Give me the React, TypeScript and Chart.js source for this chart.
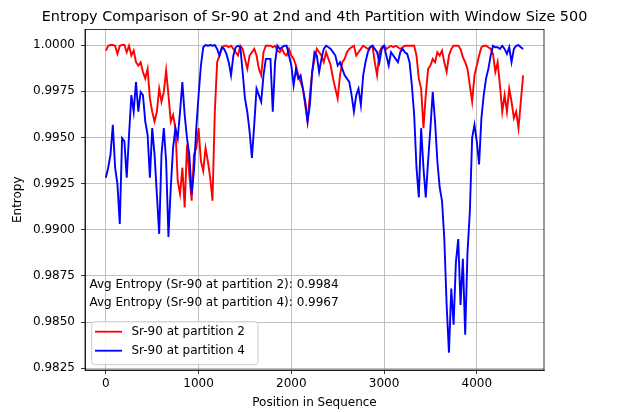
import React, { useEffect, useRef } from "react";
import { Chart, registerables } from "chart.js";

Chart.register(...registerables);

// Window start positions are every STEP units along the sequence
const STEP = 25;

const partition2 = [
  0.99970, 0.99996, 1.00000, 1.00000, 0.99996, 0.99952, 0.99996, 1.00000, 1.00000, 0.99961,
  0.99996, 0.99943, 0.99970, 0.99907, 0.99889, 0.99907, 0.99854, 0.99818, 0.99871, 0.99711,
  0.99639, 0.99586, 0.99639, 0.99764, 0.99693, 0.99746, 0.99862, 0.99729, 0.99586, 0.99621,
  0.99550, 0.99264, 0.99193, 0.99336, 0.99121, 0.99461, 0.99300, 0.99157, 0.99407, 0.99443,
  0.99550, 0.99371, 0.99318, 0.99443, 0.99371, 0.99282, 0.99157, 0.99639, 0.99907, 0.99943,
  0.99979, 0.99996, 0.99996, 0.99988, 0.99996, 0.99979, 0.99961, 0.99943, 0.99996, 0.99979,
  0.99925, 0.99871, 0.99943, 0.99961, 0.99979, 0.99943, 0.99871, 0.99836, 0.99961, 0.99996,
  0.99996, 0.99996, 0.99988, 0.99996, 0.99970, 0.99961, 0.99979, 0.99952, 0.99943, 0.99979,
  0.99943, 0.99925, 0.99889, 0.99836, 0.99800, 0.99764, 0.99675, 0.99586, 0.99729, 0.99854,
  0.99925, 0.99979, 0.99961, 0.99943, 0.99907, 0.99961, 0.99925, 0.99889, 0.99818, 0.99764,
  0.99711, 0.99836, 0.99907, 0.99925, 0.99961, 0.99979, 0.99988, 0.99996, 0.99943, 0.99961,
  0.99979, 0.99996, 0.99988, 0.99979, 0.99988, 0.99996, 0.99907, 0.99836, 0.99961, 0.99988,
  0.99996, 0.99979, 0.99988, 0.99996, 0.99988, 0.99996, 0.99988, 0.99979, 0.99988, 0.99996,
  0.99996, 0.99996, 0.99996, 0.99996, 0.99943, 0.99818, 0.99764, 0.99550, 0.99729, 0.99871,
  0.99889, 0.99925, 0.99907, 0.99961, 0.99943, 0.99970, 0.99907, 0.99854, 0.99943, 0.99979,
  0.99996, 0.99996, 0.99996, 0.99979, 0.99934, 0.99907, 0.99871, 0.99782, 0.99693, 0.99836,
  0.99889, 0.99943, 0.99988, 0.99996, 0.99996, 0.99988, 0.99979, 0.99952, 0.99854, 0.99907,
  0.99782, 0.99639, 0.99729, 0.99639, 0.99764, 0.99693, 0.99604, 0.99639, 0.99550, 0.99693, 0.99836,
];

const partition4 = [
  0.99282, 0.99336, 0.99407, 0.99568, 0.99336, 0.99246, 0.99032, 0.99496, 0.99479, 0.99282,
  0.99514, 0.99729, 0.99639, 0.99800, 0.99639, 0.99746, 0.99729, 0.99586, 0.99514, 0.99282,
  0.99550, 0.99407, 0.99193, 0.98978, 0.99407, 0.99550, 0.99371, 0.98961, 0.99229, 0.99443,
  0.99550, 0.99496, 0.99639, 0.99800, 0.99621, 0.99496, 0.99407, 0.99193, 0.99318, 0.99550,
  0.99729, 0.99889, 0.99988, 1.00000, 0.99996, 1.00000, 0.99996, 1.00000, 0.99979, 0.99943,
  0.99988, 0.99979, 0.99952, 0.99907, 0.99836, 0.99943, 0.99988, 0.99996, 0.99988, 0.99854,
  0.99711, 0.99639, 0.99532, 0.99389, 0.99568, 0.99764, 0.99729, 0.99693, 0.99836, 0.99925,
  0.99925, 0.99925, 0.99639, 0.99907, 0.99996, 0.99979, 0.99988, 0.99996, 0.99996, 0.99943,
  0.99889, 0.99782, 0.99871, 0.99818, 0.99836, 0.99764, 0.99693, 0.99586, 0.99675, 0.99854,
  0.99961, 0.99943, 0.99854, 0.99925, 0.99979, 0.99996, 0.99988, 0.99979, 0.99961, 0.99943,
  0.99889, 0.99907, 0.99871, 0.99836, 0.99818, 0.99800, 0.99729, 0.99639, 0.99729, 0.99764,
  0.99675, 0.99836, 0.99907, 0.99961, 0.99988, 0.99996, 0.99979, 0.99961, 0.99907, 0.99979,
  0.99996, 0.99943, 0.99889, 0.99961, 0.99943, 0.99925, 0.99907, 0.99961, 0.99979, 0.99961,
  0.99952, 0.99907, 0.99782, 0.99621, 0.99336, 0.99175, 0.99550, 0.99336, 0.99175, 0.99371,
  0.99550, 0.99746, 0.99586, 0.99371, 0.99229, 0.99157, 0.98950, 0.98593, 0.98335, 0.98682,
  0.98486, 0.98825, 0.98950, 0.98593, 0.98843, 0.98432, 0.98879, 0.99093, 0.99496, 0.99568,
  0.99479, 0.99354, 0.99604, 0.99729, 0.99818, 0.99871, 0.99943, 0.99996, 0.99988, 0.99988,
  0.99979, 0.99996, 0.99979, 0.99952, 0.99988, 0.99907, 0.99979, 0.99996, 1.00000, 0.99988, 0.99979,
];

const xTicks = [0, 1000, 2000, 3000, 4000];
const yTicks = [0.9825, 0.985, 0.9875, 0.99, 0.9925, 0.995, 0.9975, 1.0];
const seriesLabels = ["Sr-90 at partition 2", "Sr-90 at partition 4"];
const seriesColors = ["#ff0000", "#0000ff"];
const avgLabels = [
  "Avg Entropy (Sr-90 at partition 2): 0.9984",
  "Avg Entropy (Sr-90 at partition 4): 0.9967",
];
const titleText = "Entropy Comparison of Sr-90 at 2nd and 4th Partition with Window Size 500";
const xLabel = "Position in Sequence";
const yLabel = "Entropy";

const FONT = "'DejaVu Sans', sans-serif";

const decorPlugin = {
  id: "decor",
  afterDatasetsDraw(chart: any) {
    const { ctx, chartArea } = chart;
    const { left, right, top, bottom } = chartArea;
    ctx.save();
    // spines
    ctx.strokeStyle = "#000";
    ctx.lineWidth = 0.8;
    ctx.strokeRect(left, top, right - left, bottom - top);

    // title
    ctx.fillStyle = "#000";
    ctx.font = `14.4px ${FONT}`;
    ctx.textAlign = "center";
    ctx.textBaseline = "middle";
    ctx.fillText(titleText, (left + right) / 2, 17);

    // axis labels
    ctx.font = `12px ${FONT}`;
    ctx.fillText(xLabel, (left + right) / 2, 403);
    ctx.save();
    ctx.translate(18, (top + bottom) / 2);
    ctx.rotate(-Math.PI / 2);
    ctx.fillText(yLabel, 0, 0);
    ctx.restore();

    // average annotations
    ctx.textAlign = "left";
    ctx.fillText(avgLabels[0], left + 4.5, 284.5);
    ctx.fillText(avgLabels[1], left + 4.5, 302.5);

    // legend
    const lx = 91.7, ly = 321.7, lw = 166.3, lh = 43;
    ctx.beginPath();
    ctx.roundRect(lx, ly, lw, lh, 3);
    ctx.fillStyle = "rgba(255,255,255,0.8)";
    ctx.fill();
    ctx.strokeStyle = "#cccccc";
    ctx.lineWidth = 1;
    ctx.stroke();
    const rows = [331.7, 350.7];
    rows.forEach((yy, i) => {
      ctx.strokeStyle = seriesColors[i];
      ctx.lineWidth = 1.8;
      ctx.beginPath();
      ctx.moveTo(95, yy);
      ctx.lineTo(122, yy);
      ctx.stroke();
      ctx.fillStyle = "#000";
      ctx.fillText(seriesLabels[i], 131.5, yy + 0.5);
    });
    ctx.restore();
  },
};

export default function App() {
  const ref = useRef<HTMLCanvasElement | null>(null);
  useEffect(() => {
    if (!ref.current) return;
    const chart = new Chart(ref.current, {
      type: "line",
      data: {
        datasets: [
          {
            label: seriesLabels[0],
            data: partition2.map((v, i) => ({ x: i * STEP, y: v })),
            borderColor: seriesColors[0],
            borderWidth: 1.9,
            pointRadius: 0,
            tension: 0,
            order: 2,
          },
          {
            label: seriesLabels[1],
            data: partition4.map((v, i) => ({ x: i * STEP, y: v })),
            borderColor: seriesColors[1],
            borderWidth: 1.9,
            pointRadius: 0,
            tension: 0,
            order: 1,
          },
        ],
      },
      options: {
        animation: false,
        responsive: false,
        maintainAspectRatio: false,
        layout: { padding: { top: 29.5, right: 75, left: 0, bottom: 0 } },
        plugins: {
          legend: { display: false },
          tooltip: { enabled: false },
          title: { display: false },
        },
        scales: {
          x: {
            type: "linear",
            min: -225,
            max: 4725,
            afterFit: (s: any) => {
              s.height = 42;
            },
            afterBuildTicks: (s: any) => {
              s.ticks = xTicks.map((v) => ({ value: v }));
            },
            ticks: {
              font: { family: FONT, size: 12 },
              color: "#000",
              padding: 3,
              maxRotation: 0,
              autoSkip: false,
              callback: (v: any) => String(v),
            },
            grid: {
              color: "#b0b0b0",
              lineWidth: 0.8,
              tickLength: 4,
              tickColor: "#000",
              drawTicks: true,
            },
            border: { color: "#000", width: 0.8 },
          },
          y: {
            type: "linear",
            min: 0.98241,
            max: 1.00084,
            afterFit: (s: any) => {
              s.width = 85;
            },
            afterBuildTicks: (s: any) => {
              s.ticks = yTicks.map((v) => ({ value: v }));
            },
            ticks: {
              font: { family: FONT, size: 12 },
              color: "#000",
              padding: 6,
              autoSkip: false,
              callback: (v: any) => Number(v).toFixed(4),
            },
            grid: {
              color: "#b0b0b0",
              lineWidth: 0.8,
              tickLength: 4,
              tickColor: "#000",
              drawTicks: true,
            },
            border: { color: "#000", width: 0.8 },
          },
        },
      },
      plugins: [decorPlugin],
    } as any);
    return () => chart.destroy();
  }, []);
  return (
    <div style={{ position: "absolute", left: 0, top: 0, width: 619, height: 412, background: "#fff" }}>
      <canvas ref={ref} width={619} height={412} style={{ width: 619, height: 412, display: "block" }} />
    </div>
  );
}
